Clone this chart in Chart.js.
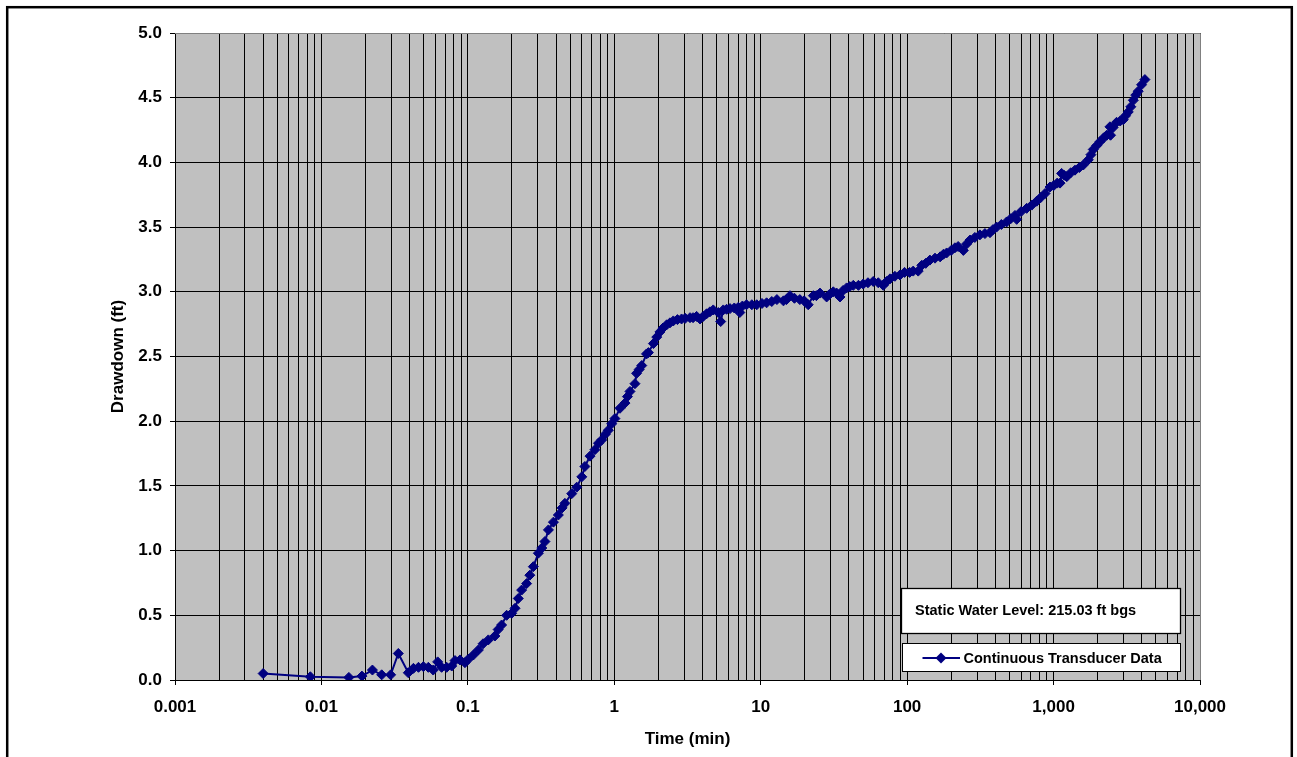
<!DOCTYPE html>
<html>
<head>
<meta charset="utf-8">
<script src="https://cdn.jsdelivr.net/npm/chart.js@4/dist/chart.umd.min.js"></script>
<style>
  html, body { margin: 0; padding: 0; background: #ffffff; }
  canvas { display: block; }
</style>
</head>
<body>
<canvas id="chart" width="1297" height="757"></canvas>
<script>
// Elapsed time since pumping started (minutes)
const timeMin = [
  0.0040, 0.0084, 0.0154, 0.0189, 0.0223, 0.0258, 0.0297, 0.0335, 0.0392, 0.0425,
  0.0460, 0.0497, 0.0537, 0.0580, 0.0622, 0.0662, 0.0717, 0.0776, 0.0817, 0.0884,
  0.0955, 0.1007, 0.109, 0.118, 0.127, 0.138, 0.153, 0.161, 0.170, 0.184,
  0.199, 0.210, 0.221, 0.233, 0.252, 0.265, 0.280, 0.303, 0.320, 0.336,
  0.355, 0.384, 0.415, 0.440, 0.460, 0.512, 0.554, 0.600, 0.630, 0.683,
  0.738, 0.780, 0.820, 0.870, 0.910, 0.960, 1.01, 1.094, 1.183, 1.23,
  1.28, 1.384, 1.42, 1.48, 1.54, 1.66, 1.71, 1.85, 1.95, 2.05,
  2.15, 2.28, 2.40, 2.53, 2.70, 2.88, 3.05, 3.29, 3.45, 3.65,
  3.85, 4.05, 4.27, 4.50, 4.74, 5.13, 5.33, 5.55, 5.85, 6.17,
  6.6, 7.03, 7.2, 7.5, 8.0, 8.7, 9.4, 10.2, 10.97, 11.9,
  12.9, 14.3, 15.0, 15.85, 17.0, 18.5, 19.8, 21.1, 22.9, 24.0,
  25.4, 28.2, 29.5, 31.3, 33.0, 34.8, 36.5, 38.6, 40.5, 42.9,
  46.5, 50.1, 54.0, 58.7, 63.5, 68.7, 72.5, 76.4, 82.5, 89.3,
  96, 104, 110, 119, 126, 134, 143, 155, 168, 177,
  186, 200, 212, 223, 242, 255, 269, 290, 314, 340,
  368, 385, 408, 440, 478, 510, 545, 560, 600, 655,
  710, 767, 820, 875, 946, 1000, 1060, 1107, 1135, 1180,
  1230, 1310, 1400, 1500, 1596, 1727, 1800, 1867, 1970, 2075,
  2200, 2306, 2427, 2450, 2550, 2693, 2850, 2991, 3100, 3236,
  3370, 3505, 3640, 3785, 3990, 4205
];

// Measured drawdown below static level (feet)
const drawdownFt = [
  0.05, 0.025, 0.02, 0.03, 0.077, 0.04, 0.04, 0.205, 0.056, 0.09,
  0.098, 0.103, 0.098, 0.077, 0.14, 0.098, 0.098, 0.108, 0.15, 0.155,
  0.134, 0.16, 0.193, 0.232, 0.28, 0.31, 0.34, 0.39, 0.425, 0.50,
  0.515, 0.554, 0.63, 0.695, 0.745, 0.81, 0.876, 0.98, 1.02, 1.07,
  1.16, 1.22, 1.275, 1.33, 1.365, 1.44, 1.49, 1.57, 1.65, 1.73,
  1.78, 1.83, 1.855, 1.90, 1.93, 1.98, 2.02, 2.10, 2.14, 2.19,
  2.23, 2.29, 2.37, 2.40, 2.43, 2.52, 2.53, 2.60, 2.65, 2.69,
  2.72, 2.745, 2.76, 2.775, 2.785, 2.79, 2.795, 2.80, 2.80, 2.81,
  2.79, 2.81, 2.83, 2.845, 2.86, 2.84, 2.77, 2.86, 2.865, 2.87,
  2.875, 2.88, 2.84, 2.89, 2.90, 2.90, 2.90, 2.91, 2.915, 2.925,
  2.94, 2.93, 2.94, 2.97, 2.95, 2.94, 2.93, 2.90, 2.97, 2.97,
  2.99, 2.96, 2.98, 3.00, 2.99, 2.96, 3.01, 3.03, 3.04, 3.05,
  3.05, 3.06, 3.07, 3.08, 3.07, 3.05, 3.08, 3.10, 3.12, 3.13,
  3.15, 3.15, 3.16, 3.16, 3.205, 3.22, 3.245, 3.26, 3.27, 3.29,
  3.30, 3.32, 3.34, 3.35, 3.32, 3.37, 3.40, 3.42, 3.44, 3.45,
  3.457, 3.48, 3.50, 3.52, 3.54, 3.565, 3.59, 3.56, 3.62, 3.645,
  3.67, 3.70, 3.73, 3.76, 3.81, 3.82, 3.84, 3.84, 3.915, 3.90,
  3.89, 3.92, 3.94, 3.96, 3.98, 4.02, 4.06, 4.10, 4.13, 4.16,
  4.19, 4.21, 4.275, 4.21, 4.27, 4.31, 4.32, 4.33, 4.36, 4.39,
  4.43, 4.48, 4.52, 4.55, 4.60, 4.64
];

// Axis ticks and labels
const xDecades = [0.001, 0.01, 0.1, 1, 10, 100, 1000, 10000];
const xDecadeLabels = ['0.001', '0.01', '0.1', '1', '10', '100', '1,000', '10,000'];
const yTickValues = [0, 0.5, 1.0, 1.5, 2.0, 2.5, 3.0, 3.5, 4.0, 4.5, 5.0];

const seriesLabel = 'Continuous Transducer Data';
const noteText = 'Static Water Level: 215.03 ft bgs';
const xTitle = 'Time (min)';
const yTitle = 'Drawdown (ft)';

const NAVY = '#000080';
const PLOT_BG = '#c0c0c0';
const FONT = '"Liberation Sans", Arial, Helvetica, sans-serif';

function decadeIndex(v) {
  for (let i = 0; i < xDecades.length; i++) {
    if (Math.abs(v - xDecades[i]) <= xDecades[i] * 1e-6) return i;
  }
  return -1;
}

const points = timeMin.map((t, i) => ({ x: t, y: drawdownFt[i] }));

// Gray plot area and white page
const backgroundPlugin = {
  id: 'backgroundPlugin',
  beforeDraw(chart) {
    const { ctx, chartArea: a } = chart;
    ctx.save();
    ctx.fillStyle = '#ffffff';
    ctx.fillRect(0, 0, chart.width, chart.height);
    ctx.fillStyle = PLOT_BG;
    ctx.fillRect(a.left, a.top, a.right - a.left, a.bottom - a.top);
    ctx.restore();
  }
};

// Outer frame, note box and legend box
const decorPlugin = {
  id: 'decorPlugin',
  afterDraw(chart) {
    const { ctx, chartArea: a } = chart;
    ctx.save();

    // plot area outline (top and right)
    ctx.strokeStyle = '#808080';
    ctx.lineWidth = 1;
    ctx.beginPath();
    ctx.moveTo(a.left, a.top + 0.5);
    ctx.lineTo(a.right + 0.5, a.top + 0.5);
    ctx.lineTo(a.right + 0.5, a.bottom);
    ctx.stroke();

    // chart frame
    ctx.strokeStyle = '#000000';
    ctx.lineWidth = 2.5;
    ctx.strokeRect(7.2, 7.2, 1284.6, 800);

    // note box
    ctx.fillStyle = '#ffffff';
    ctx.fillRect(901.5, 588.5, 279, 45);
    ctx.lineWidth = 1.3;
    ctx.strokeStyle = '#000000';
    ctx.strokeRect(901.5, 588.5, 279, 45);
    ctx.fillStyle = '#000000';
    ctx.font = 'bold 14.5px ' + FONT;
    ctx.textBaseline = 'middle';
    ctx.textAlign = 'left';
    ctx.fillText(noteText, 915, 610.5);

    // legend box
    ctx.fillStyle = '#ffffff';
    ctx.fillRect(902.5, 643.5, 278, 28);
    ctx.strokeStyle = '#000000';
    ctx.lineWidth = 1;
    ctx.strokeRect(902.5, 643.5, 278, 28);
    ctx.strokeStyle = NAVY;
    ctx.lineWidth = 2;
    ctx.beginPath();
    ctx.moveTo(922.5, 658);
    ctx.lineTo(960, 658);
    ctx.stroke();
    ctx.fillStyle = NAVY;
    ctx.beginPath();
    ctx.moveTo(941, 652.5);
    ctx.lineTo(946.5, 658);
    ctx.lineTo(941, 663.5);
    ctx.lineTo(935.5, 658);
    ctx.closePath();
    ctx.fill();
    ctx.fillStyle = '#000000';
    ctx.font = 'bold 14.5px ' + FONT;
    ctx.fillText(seriesLabel, 963.5, 658.5);

    ctx.restore();
  }
};

new Chart(document.getElementById('chart'), {
  type: 'line',
  data: {
    datasets: [{
      label: seriesLabel,
      data: points,
      borderColor: NAVY,
      backgroundColor: NAVY,
      borderWidth: 2,
      pointStyle: 'rectRot',
      pointRadius: 5,
      pointBorderWidth: 1,
      pointBackgroundColor: NAVY,
      pointBorderColor: NAVY,
      tension: 0,
      fill: false
    }]
  },
  options: {
    responsive: false,
    animation: false,
    devicePixelRatio: 1,
    layout: { padding: { top: 33, right: 97, bottom: 0, left: 0 } },
    plugins: {
      legend: { display: false },
      tooltip: { enabled: false }
    },
    scales: {
      x: {
        type: 'logarithmic',
        min: 0.001,
        max: 10000,
        afterBuildTicks(scale) {
          const ticks = [];
          for (let i = 0; i < xDecades.length - 1; i++) {
            for (let k = 1; k <= 9; k++) ticks.push({ value: k * xDecades[i] });
          }
          ticks.push({ value: xDecades[xDecades.length - 1] });
          scale.ticks = ticks;
        },
        afterFit(scale) { scale.height = 77; },
        border: { display: true, color: '#000000', width: 1 },
        grid: {
          color: '#000000',
          lineWidth: 1,
          drawTicks: true,
          tickLength: 5,
          tickColor: (ctx) => (ctx.tick && decadeIndex(ctx.tick.value) >= 0) ? '#000000' : 'rgba(0,0,0,0)'
        },
        ticks: {
          autoSkip: false,
          maxRotation: 0,
          minRotation: 0,
          padding: 12,
          color: '#000000',
          font: { family: FONT, size: 17, weight: 'bold' },
          callback: (value) => {
            const i = decadeIndex(value);
            return i >= 0 ? xDecadeLabels[i] : '';
          }
        },
        title: {
          display: true,
          text: xTitle,
          color: '#000000',
          font: { family: FONT, size: 17, weight: 'bold' },
          padding: { top: 0, bottom: 7 }
        }
      },
      y: {
        type: 'linear',
        min: 0,
        max: 5,
        afterBuildTicks(scale) {
          scale.ticks = yTickValues.map(v => ({ value: v }));
        },
        afterFit(scale) { scale.width = 175; },
        border: { display: true, color: '#000000', width: 1 },
        grid: {
          color: '#000000',
          lineWidth: 1,
          drawTicks: true,
          tickLength: 5,
          tickColor: '#000000'
        },
        ticks: {
          padding: 8,
          color: '#000000',
          font: { family: FONT, size: 17, weight: 'bold' },
          callback: (value) => Number(value).toFixed(1)
        },
        title: {
          display: true,
          text: yTitle,
          color: '#000000',
          font: { family: FONT, size: 17, weight: 'bold' },
          padding: { top: 108, bottom: 0 }
        }
      }
    }
  },
  plugins: [backgroundPlugin, decorPlugin]
});
</script>
</body>
</html>
